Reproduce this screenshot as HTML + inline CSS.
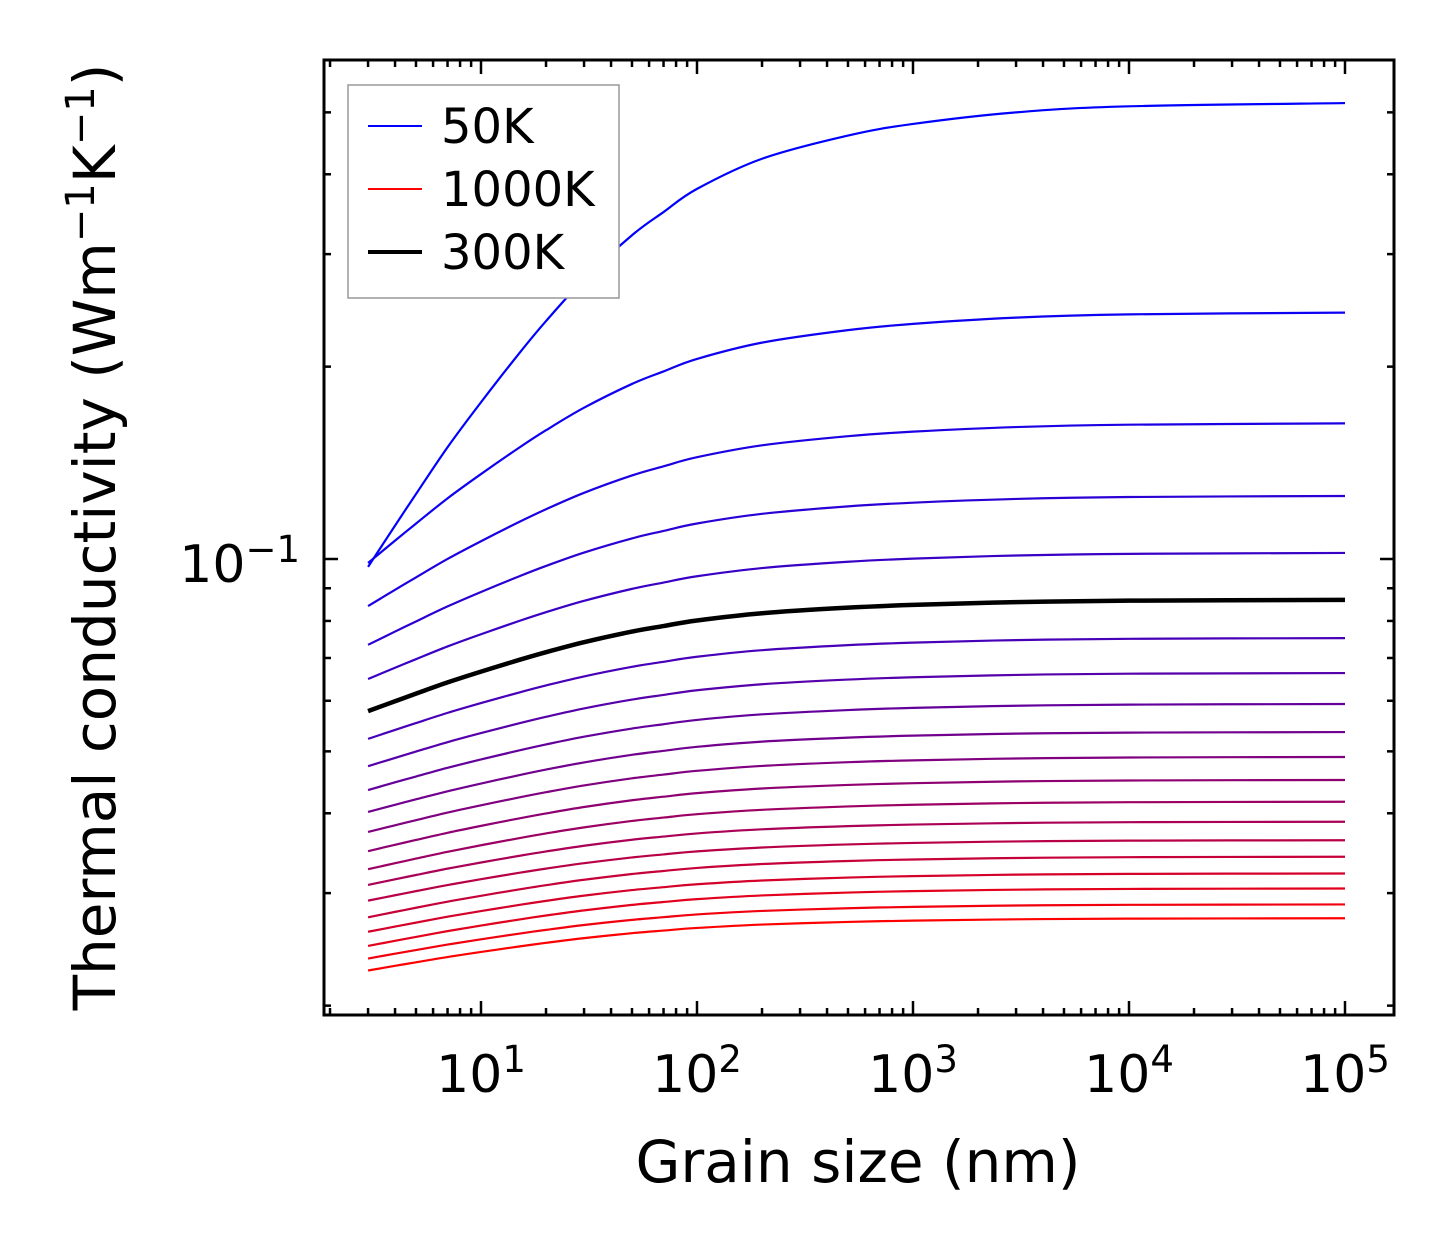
<!DOCTYPE html>
<html><head><meta charset="utf-8"><style>
html,body{margin:0;padding:0;background:#fff;width:1454px;height:1254px;overflow:hidden}
svg text{font-family:"DejaVu Sans","Liberation Sans",sans-serif;fill:#000}
</style></head><body>
<svg id="chart" width="1454" height="1254" xmlns="http://www.w3.org/2000/svg">
<g id="plot"></g>
<rect x="324" y="60" width="1070" height="955" fill="none" stroke="#000" stroke-width="3"/>
<g id="ticks"></g>
<text x="858" y="1182" font-size="58" text-anchor="middle">Grain size (nm)</text>
<text transform="translate(115,537) rotate(-90)" font-size="58" text-anchor="middle">Thermal conductivity (Wm<tspan dy="-21" font-size="40">−1</tspan><tspan dy="21">K</tspan><tspan dy="-21" font-size="40">−1</tspan><tspan dy="21">)</tspan></text>
<g>
<rect x="348" y="85" width="271" height="213" fill="#fff" stroke="#999" stroke-width="1.5"/>
<line x1="368" y1="126" x2="422" y2="126" stroke="#0000ff" stroke-width="2"/>
<text x="441" y="143" font-size="48">50K</text>
<line x1="368" y1="189" x2="422" y2="189" stroke="#ff0000" stroke-width="2"/>
<text x="441" y="206" font-size="48">1000K</text>
<line x1="368" y1="252" x2="422" y2="252" stroke="#000" stroke-width="4"/>
<text x="441" y="269" font-size="48">300K</text>
</g>
</svg>
<script>
// grain sizes (nm) where curve shape is sampled
const grainSizes=[3,4,5,7,10,15,20,30,50,70,100,200,500,1000,3000,10000,100000];
// fraction of total log-rise reached at each grain size
const riseFraction=[0,0.089,0.157,0.258,0.355,0.46,0.53,0.62,0.715,0.765,0.815,0.88,0.93,0.955,0.98,0.993,1.0];
// conductivity at 3 nm for each temperature curve (top = 50K ... bottom = 1000K)
const startValues=[0.0972,0.0986,0.0844,0.0734,0.0649,0.0523,0.0474,0.0435,0.0402,0.0374,0.0349,0.0327,0.0309,0.0292,0.0275,0.0261,0.0248,0.0237,0.0227];
// conductivity at 1e5 nm
const endValues=[0.517,0.243,0.163,0.1255,0.1022,0.0752,0.0663,0.0593,0.0536,0.0490,0.0451,0.0417,0.0388,0.0363,0.0342,0.0322,0.0305,0.0288,0.0274];
// 300K highlighted curve
const k300Start=0.0578, k300End=0.0863;
const xTickLabels=["1","2","3","4","5"];

const xS=v=>481+216*(Math.log10(v)-1);
const yS=v=>559-639*(Math.log10(v)+1);
const NS="http://www.w3.org/2000/svg";
const plot=document.getElementById('plot'), ticks=document.getElementById('ticks');

function curvePath(a,b){
  const la=Math.log10(a),lb=Math.log10(b);
  const pts=grainSizes.map((g,i)=>[xS(g),yS(Math.pow(10,la+(lb-la)*riseFraction[i]))]);
  let d="M"+pts[0][0]+","+pts[0][1];
  for(let i=0;i<pts.length-1;i++){
    const p0=pts[Math.max(0,i-1)],p1=pts[i],p2=pts[i+1],p3=pts[Math.min(pts.length-1,i+2)];
    const c1=[p1[0]+(p2[0]-p0[0])/6,p1[1]+(p2[1]-p0[1])/6],c2=[p2[0]-(p3[0]-p1[0])/6,p2[1]-(p3[1]-p1[1])/6];
    d+=` C${c1[0]},${c1[1]} ${c2[0]},${c2[1]} ${p2[0]},${p2[1]}`;
  }
  return d;
}
const n=startValues.length;
startValues.forEach((s,i)=>{
  const t=i/(n-1);
  const p=document.createElementNS(NS,'path');
  p.setAttribute('d',curvePath(s,endValues[i]));
  p.setAttribute('fill','none');
  p.setAttribute('stroke',`rgb(${Math.round(255*t)},0,${Math.round(255*(1-t))})`);
  p.setAttribute('stroke-width','2.2');
  
  
  plot.appendChild(p);
});
const b=document.createElementNS(NS,'path');
b.setAttribute('d',curvePath(k300Start,k300End));
b.setAttribute('fill','none');b.setAttribute('stroke','#000');b.setAttribute('stroke-width','4.5');


plot.appendChild(b);

function line(x1,y1,x2,y2){const l=document.createElementNS(NS,'line');
l.setAttribute('x1',x1);l.setAttribute('y1',y1);l.setAttribute('x2',x2);l.setAttribute('y2',y2);
l.setAttribute('stroke','#000');l.setAttribute('stroke-width','2.5');


ticks.appendChild(l);}
function text(x,y,html,anchor){const t=document.createElementNS(NS,'text');
t.setAttribute('x',x);t.setAttribute('y',y);t.setAttribute('font-size','52');t.setAttribute('text-anchor',anchor);
t.innerHTML=html;


ticks.appendChild(t);}
for(let e=0;e<=5;e++)for(let m=1;m<=9;m++){
  const v=m*Math.pow(10,e),x=xS(v); if(x<325||x>1393)continue;
  const L=m===1?14:7; line(x,1015,x,1015-L); line(x,60,x,60+L);
}
xTickLabels.forEach((s,i)=>text(xS(Math.pow(10,i+1)),1092,`10<tspan dy="-20" font-size="37">${s}</tspan>`,'middle'));
[0.02,0.03,0.04,0.05,0.06,0.07,0.08,0.09,0.1,0.2,0.3,0.4,0.5].forEach(v=>{
  const y=yS(v); const L=v===0.1?14:7; line(324,y,324+L,y); line(1394,y,1394-L,y);
});
text(300,582,`10<tspan dy="-20" font-size="37">−1</tspan>`,'end');
</script>
</body></html>
